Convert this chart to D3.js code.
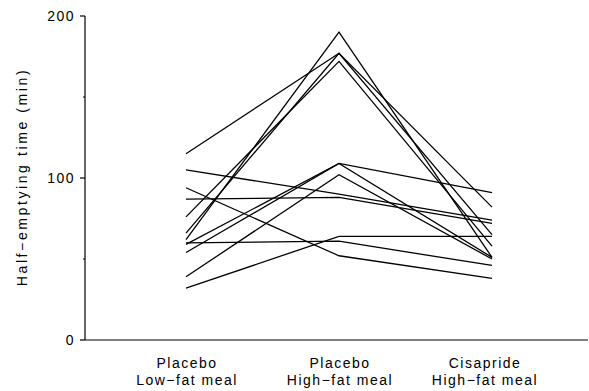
<!DOCTYPE html>
<html><head><meta charset="utf-8">
<script src="https://cdn.jsdelivr.net/npm/d3@7"></script>
<style>body{margin:0;background:#fff}svg text{font-family:"Liberation Sans",Arial,sans-serif;fill:#000}</style>
</head><body><div id="c"></div>
<script>
const categories = [["Placebo","Low−fat meal"],["Placebo","High−fat meal"],["Cisapride","High−fat meal"]];
const lowFat      = [115, 105, 94, 87, 76, 66, 62, 60, 59, 54, 39, 32];
const highFat     = [177, 90, 52, 88, 172, 177, 190, 61, 109, 109, 102, 64];
const cisapride   = [82, 74, 38, 72, 58, 65, 51, 46, 91, 51, 50, 64];
const yMajor = [0, 100, 200];
const yMinor = [50, 150];

const W = 589, H = 391;
const svg = d3.select("#c").append("svg").attr("width", W).attr("height", H);
const x = d3.scalePoint().domain([0,1,2]).range([186, 492]);
const y = d3.scaleLinear().domain([0, 200]).range([340, 16]);

// axes
svg.append("line").attr("x1",85).attr("x2",85).attr("y1",y(200)).attr("y2",y(0)).attr("stroke","#000").attr("stroke-width",1.2);
svg.append("line").attr("x1",85).attr("x2",588).attr("y1",y(0)).attr("y2",y(0)).attr("stroke","#000").attr("stroke-width",1.2);
svg.selectAll(".tk").data(yMajor).enter().append("line")
  .attr("x1",80).attr("x2",85).attr("y1",d=>y(d)).attr("y2",d=>y(d)).attr("stroke","#000").attr("stroke-width",1.2);
svg.selectAll(".mtk").data(yMinor).enter().append("line")
  .attr("x1",83).attr("x2",85).attr("y1",d=>y(d)).attr("y2",d=>y(d)).attr("stroke","#000").attr("stroke-width",1);
svg.selectAll(".tl").data(yMajor).enter().append("text")
  .attr("x",75).attr("y",d=>y(d)+5).attr("text-anchor","end").style("font-size","14px").style("letter-spacing","1.5px")
  .text(d=>d);
svg.append("text").attr("transform","translate(27,177) rotate(-90)").attr("text-anchor","middle")
  .style("font-size","14px").style("letter-spacing","2.6px").text("Half−emptying time (min)");

const labX = [187, 340, 485];
categories.forEach((c,i)=>{
  const t = svg.append("text").attr("text-anchor","middle").style("font-size","14px").style("letter-spacing","1.5px");
  t.append("tspan").attr("x",labX[i]).attr("y",368).text(c[0]);
  t.append("tspan").attr("x",labX[i]).attr("y",385).text(c[1]);
});

const subjects = lowFat.map((v,i)=>[v, highFat[i], cisapride[i]]);
const line = d3.line().x((d,i)=>x(i)).y(d=>y(d));
svg.selectAll(".s").data(subjects).enter().append("path")
  .attr("d", line).attr("fill","none").attr("stroke","#000").attr("stroke-width",1.3);
</script></body></html>
